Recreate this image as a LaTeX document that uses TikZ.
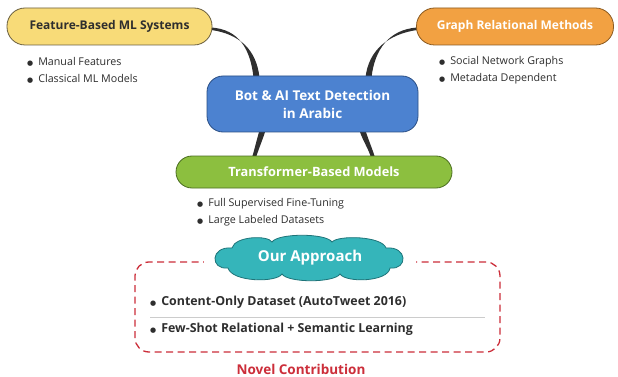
\documentclass[tikz,border=0pt]{standalone}
\usepackage{fontspec}
\setmainfont{Open Sans}
\newfontfamily\dejavu{DejaVu Sans}
\usetikzlibrary{calc,backgrounds}
\definecolor{cyellow}{HTML}{F8DB78}
\definecolor{cyellowd}{HTML}{6B6040}
\definecolor{corange}{HTML}{F2A142}
\definecolor{coranged}{HTML}{8A5A20}
\definecolor{cblue}{HTML}{4C82D0}
\definecolor{cblued}{HTML}{2A4F85}
\definecolor{cgreen}{HTML}{8CBF3F}
\definecolor{cgreend}{HTML}{4B6E20}
\definecolor{cteal}{HTML}{35B5BA}
\definecolor{cteald}{HTML}{1E7479}
\definecolor{cred}{HTML}{CC2E3A}
\definecolor{ctext}{HTML}{2E2E2E}
\definecolor{cconn}{HTML}{2F2F2F}
\newcommand\bul{{\dejavu\fontsize{7}{7}\selectfont ●}\hspace{5pt}}
\pgfdeclarelayer{bgzero}
\pgfsetlayers{bgzero,background,main}
\begin{document}
\begin{tikzpicture}[x=1pt,y=-1pt,
  pill/.style={draw, line width=0.8pt, font=\bfseries\fontsize{12}{14}\selectfont, text=white, align=center, inner sep=0pt},
  item/.style={anchor=west, font=\fontsize{10.7}{12}\selectfont, text=ctext, inner sep=0pt},
  bitem/.style={anchor=west, font=\bfseries\fontsize{12.4}{14}\selectfont, text=ctext, inner sep=0pt},
  conn/.style={fill=cconn}]
\useasboundingbox (0,0) rectangle (618,377);
\begin{pgfonlayer}{bgzero}
\fill[white] (0,0) rectangle (618,377);
\end{pgfonlayer}

\node[pill, fill=cyellow, draw=cyellowd, text=ctext, minimum width=205pt, minimum height=37pt, rounded corners=18pt] (yellow) at (109.5,26.5) {Feature-Based ML Systems};
\node[pill, fill=corange, draw=coranged, minimum width=197pt, minimum height=37pt, rounded corners=18pt] (orange) at (515,26.5) {Graph Relational Methods};
\node[pill, fill=cblue, draw=cblued, minimum width=211pt, minimum height=56pt, rounded corners=16pt, font=\bfseries\fontsize{13.5}{18}\selectfont] (blue) at (312.5,104) {Bot \& AI Text Detection\\in Arabic};
\node[pill, fill=cgreen, draw=cgreend, minimum width=276pt, minimum height=32pt, rounded corners=16pt, font=\bfseries\fontsize{12.8}{14}\selectfont] (green) at (314,172) {Transformer-Based Models};

% connectors
\begin{pgfonlayer}{background}
\fill[conn] ($(yellow.east)+(-1,1)$) .. controls +(28,2) and +(-3,-28) .. ($(blue.north)+(-59,2)$) -- ($(blue.north)+(-53,2)$) .. controls +(-3,-28) and +(28,4) .. ($(yellow.east)+(-1,3.5)$) -- cycle;
\fill[conn] ($(orange.west)+(1,1)$) .. controls +(-28,2) and +(3,-28) .. ($(blue.north)+(59,2)$) -- ($(blue.north)+(53,2)$) .. controls +(3,-28) and +(-28,4) .. ($(orange.west)+(1,3.5)$) -- cycle;
\fill[conn] ($(blue.south)+(-53,-2)$) .. controls +(-3,10) and +(3,-10) .. ($(green.north)+(-62,2)$) -- ($(green.north)+(-58,2)$) .. controls +(3,-10) and +(-3,10) .. ($(blue.south)+(-47,-2)$) -- cycle;
\fill[conn] ($(blue.south)+(47,-2)$) .. controls +(3,10) and +(-3,-10) .. ($(green.north)+(57,2)$) -- ($(green.north)+(61,2)$) .. controls +(-3,-10) and +(3,10) .. ($(blue.south)+(53,-2)$) -- cycle;
\end{pgfonlayer}

% bullet items
\node[item] (y1) at (27,62) {\bul Manual Features};
\node[item] (y2) at (27,79) {\bul Classical ML Models};
\node[item] (o1) at (439,62) {\bul Social Network Graphs};
\node[item] (o2) at (439,79) {\bul Metadata Dependent};
\node[item] (g1) at (197,204) {\bul Full Supervised Fine-Tuning};
\node[item] (g2) at (197,221) {\bul Large Labeled Datasets};

% our approach frame
\node[draw=cred, dashed, dash pattern=on 7pt off 4.5pt, line width=1.3pt, rounded corners=14pt, minimum width=365pt, minimum height=90pt] (frame) at (317.5,307) {};
\coordinate (cloudc) at (310,258);
\begin{scope}[shift={(cloudc)}]
\fill[white] (-106,-6) rectangle (106,6);
\filldraw[fill=cteal, draw=cteald, line width=0.8pt]
  (-82,10) .. controls (-100,12) and (-100,-12) .. (-78,-10)
  .. controls (-75,-22) and (-42,-23) .. (-38,-16)
  .. controls (-32,-25) and (16,-25) .. (22,-16)
  .. controls (28,-23) and (72,-22) .. (76,-10)
  .. controls (98,-12) and (98,12) .. (80,10)
  .. controls (78,24) and (36,25) .. (30,16)
  .. controls (24,25) and (-22,25) .. (-28,16)
  .. controls (-34,25) and (-78,24) .. (-82,10) -- cycle;
\end{scope}
\node[font=\bfseries\fontsize{15}{17}\selectfont, text=white, inner sep=0pt] (cloud) at (cloudc) {Our Approach};
\node[bitem] (f1) at (150,302) {\bul Content-Only Dataset (AutoTweet 2016)};
\node[bitem] (f2) at (150,329) {\bul Few-Shot Relational + Semantic Learning};
\coordinate (sepl) at (150,317);
\coordinate (sepr) at (485,317);
\draw[black!20, line width=0.8pt] (sepl) -- (sepr);
\node[font=\bfseries\fontsize{13.5}{15}\selectfont, text=cred] (novel) at (301,369) {Novel Contribution};
\end{tikzpicture}
\end{document}
